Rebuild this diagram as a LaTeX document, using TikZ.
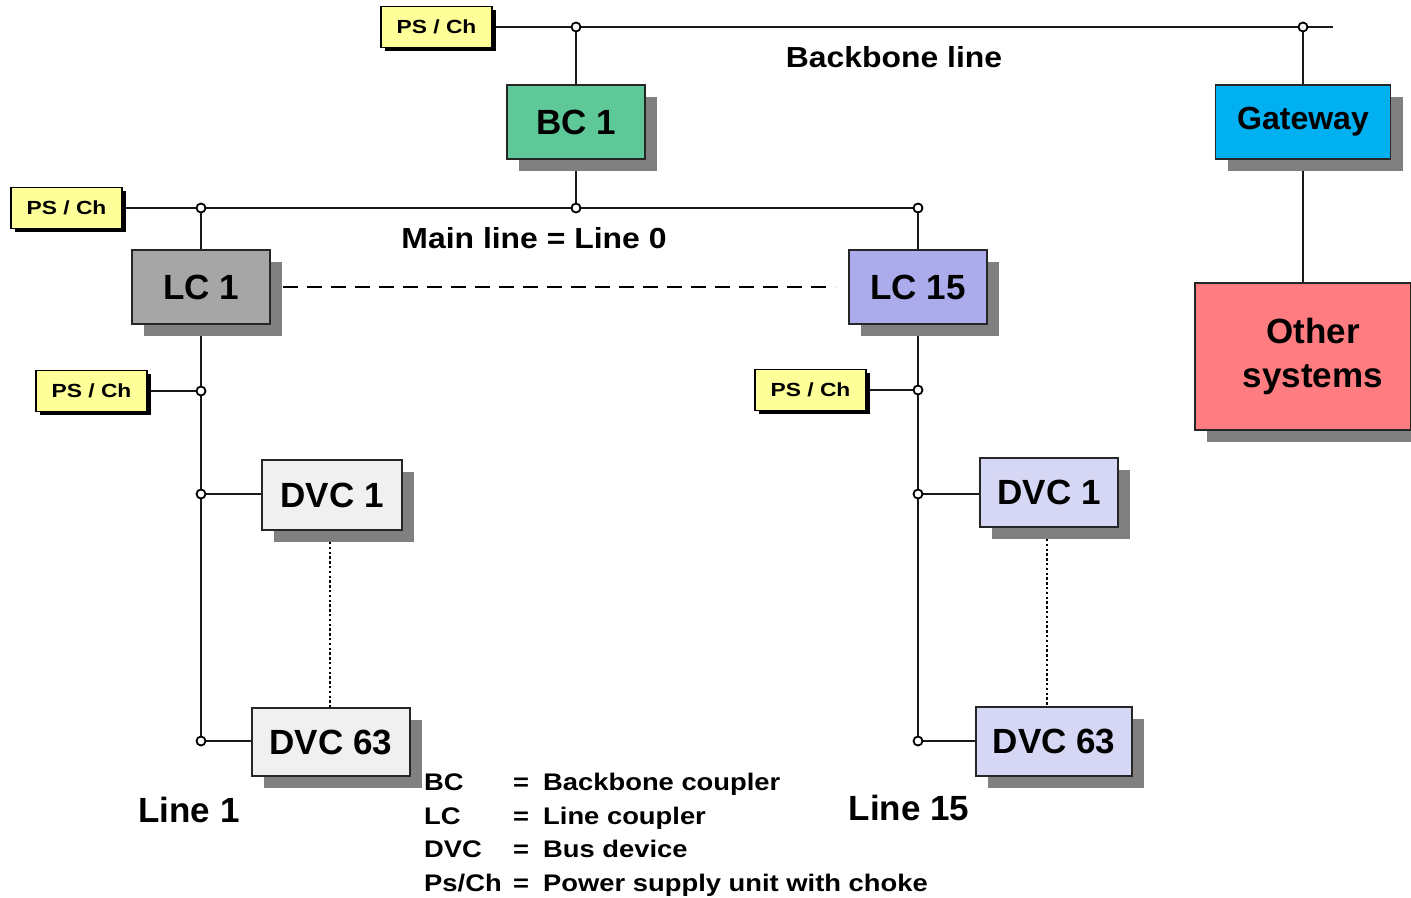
\documentclass[tikz,border=0pt]{standalone}
\usepackage{fontspec}
\setmainfont{Liberation Sans}
\newfontfamily\lblfont[FakeStretch=1.1]{Liberation Sans}
\newfontfamily\psfont[FakeStretch=1.2]{Liberation Sans}
\newfontfamily\legfont[FakeStretch=1.14]{Liberation Sans}
\usetikzlibrary{shadows,backgrounds}
\definecolor{bcgreen}{RGB}{95,200,152}
\definecolor{gwblue}{RGB}{0,176,240}
\definecolor{othred}{RGB}{255,124,128}
\definecolor{lcgray}{RGB}{166,166,166}
\definecolor{lcviolet}{RGB}{172,172,236}
\definecolor{dvcgray}{RGB}{240,240,240}
\definecolor{dvcviolet}{RGB}{214,214,245}
\definecolor{psyellow}{RGB}{255,255,153}
\definecolor{shadowgray}{RGB}{128,128,128}
\begin{document}
\begin{tikzpicture}[x=1pt,y=-1pt,
  box/.style={draw=black!85, line width=1.4pt, inner sep=0pt, align=center,
    font=\bfseries\fontsize{35}{42}\selectfont,
    drop shadow={shadow xshift=12pt, shadow yshift=-12pt, fill=shadowgray, opacity=1}},
  psbox/.style={draw=black, line width=1.4pt, fill=psyellow, inner sep=0pt,
    minimum width=111pt, minimum height=41pt, font=\psfont\bfseries\fontsize{19}{21}\selectfont,
    drop shadow={shadow xshift=3.5pt, shadow yshift=-3.5pt, fill=black, opacity=1}},
  junc/.style={circle, draw=black, fill=white, line width=1.8pt, inner sep=0pt, minimum size=9pt},
  bus/.style={line width=2.7pt, draw=black!90},
  lbl/.style={font=\lblfont\bfseries\fontsize{29}{32}\selectfont, inner sep=0pt},
  linelbl/.style={font=\bfseries\fontsize{35}{38}\selectfont, inner sep=0pt}
]
\useasboundingbox (0,0) rectangle (1411,897);

% power supplies
\node[psbox] (ps1) at (436.5,27) {PS / Ch};
\node[psbox] (ps2) at (66.5,208) {PS / Ch};
\node[psbox] (ps3) at (91.5,391) {PS / Ch};
\node[psbox] (ps4) at (810.5,390) {PS / Ch};

% couplers and devices
\node[box, fill=bcgreen, minimum width=138pt, minimum height=74pt] (bc1) at (576,122) {BC 1};
\node[box, fill=gwblue, minimum width=175pt, minimum height=74pt, font=\bfseries\fontsize{32}{36}\selectfont] (gw) at (1303,122) {\raisebox{-4pt}{Gateway}};
\node[box, fill=othred, minimum width=216pt, minimum height=147pt, font=\bfseries\fontsize{35}{44}\selectfont] (oth) at (1303,356.5) {\hspace*{20pt}Other\\\hspace*{20pt}systems};
\node[box, fill=lcgray, minimum width=138pt, minimum height=74pt] (lc1) at (201,287) {LC 1};
\node[box, fill=lcviolet, minimum width=138pt, minimum height=74pt] (lc15) at (918,287) {LC 15};
\node[box, fill=dvcgray, minimum width=140pt, minimum height=70pt] (d1a) at (332,495) {DVC 1};
\node[box, fill=dvcgray, minimum width=158pt, minimum height=68pt] (d63a) at (331,742) {DVC 63};
\node[box, fill=dvcviolet, minimum width=138pt, minimum height=69pt] (d1b) at (1049,492.5) {DVC 1};
\node[box, fill=dvcviolet, minimum width=156pt, minimum height=69pt] (d63b) at (1054,741.5) {DVC 63};

% junction points
\coordinate (jb1) at (576,27);
\coordinate (jb2) at (1303,27);
\coordinate (bbend) at (1333,27);
\coordinate (jm1) at (201,208);
\coordinate (jm2) at (576,208);
\coordinate (jm3) at (918,208);
\coordinate (ja1) at (201,391);
\coordinate (ja2) at (201,494);
\coordinate (ja3) at (201,741);
\coordinate (jc1) at (918,390);
\coordinate (jc2) at (918,494);
\coordinate (jc3) at (918,741);

\begin{pgfonlayer}{background}
  % backbone line
  \draw[bus] (ps1.east) -- (bbend);
  \draw[bus] (jb1) -- (bc1.north);
  \draw[bus] (jb2) -- (gw.north);
  \draw[bus] (gw.south) -- (oth.north);
  % main line
  \draw[bus] (ps2.east) -- (jm3);
  \draw[bus] (bc1.south) -- (jm2);
  \draw[bus] (jm1) -- (lc1.north);
  \draw[bus] (jm3) -- (lc15.north);
  % line 1
  \draw[bus] (lc1.south) -- (ja3);
  \draw[bus] (ps3.east) -- (ja1);
  \draw[bus] (ja2) -- (d1a.west |- ja2);
  \draw[bus] (ja3) -- (d63a.west |- ja3);
  % line 15
  \draw[bus] (lc15.south) -- (jc3);
  \draw[bus] (ps4.east) -- (jc1);
  \draw[bus] (jc2) -- (d1b.west |- jc2);
  \draw[bus] (jc3) -- (d63b.west |- jc3);
  % dotted device ranges
  \draw[line width=2.4pt, dash pattern=on 2.4pt off 2.4pt] (330,542) -- (330,708);
  \draw[line width=2.4pt, dash pattern=on 2.4pt off 2.4pt] (1047,539) -- (1047,705);
\end{pgfonlayer}

% dashed link between line couplers
\draw[line width=2.4pt, dash pattern=on 15pt off 9pt] (283,287) -- (835,287);

\foreach \j in {jb1,jb2,jm1,jm2,jm3,ja1,ja2,ja3,jc1,jc2,jc3}
  \node[junc] at (\j) {};

% labels
\node[lbl] (bbl) at (894,57) {Backbone line};
\node[lbl] (mll) at (534,238) {Main line = Line 0};
\node[linelbl] (l1) at (189,810) {Line 1};
\node[linelbl] (l15) at (909,808) {Line 15};

% legend
\node[anchor=north west, inner sep=0pt, font=\legfont\bfseries\fontsize{24}{33.5}\selectfont] (legend) at (424,767)
  {\begin{tabular}{@{}p{89pt}@{}p{30pt}@{}l@{}}
   BC & = & Backbone coupler\\
   LC & = & Line coupler\\
   DVC & = & Bus device\\
   Ps/Ch & = & Power supply unit with choke
   \end{tabular}};
\end{tikzpicture}
\end{document}
